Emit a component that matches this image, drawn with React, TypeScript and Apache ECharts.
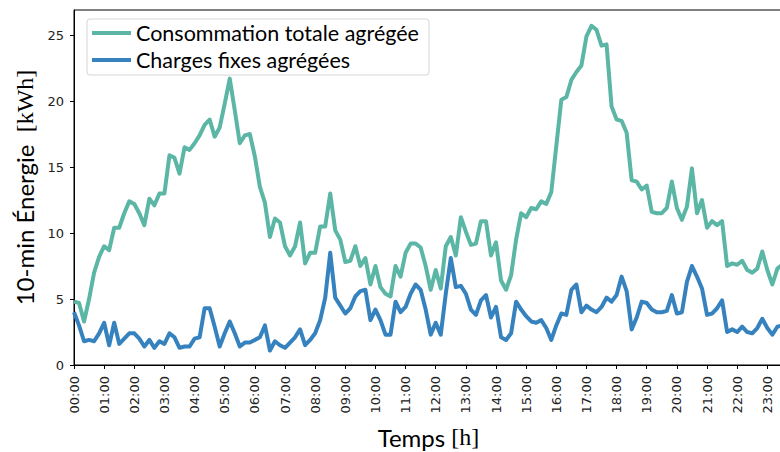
import React, { useEffect, useRef } from "react";
import * as echarts from "echarts";

const hourLabels = [
  "00:00", "01:00", "02:00", "03:00", "04:00", "05:00", "06:00", "07:00",
  "08:00", "09:00", "10:00", "11:00", "12:00", "13:00", "14:00", "15:00",
  "16:00", "17:00", "18:00", "19:00", "20:00", "21:00", "22:00", "23:00",
];

// 10-minute steps (index 0 = 00:00, index 6 = 01:00 ...)
const totalConsumption = [
  4.8, 4.7, 3.3, 5.0, 7.0, 8.2, 9.0, 8.7, 10.4, 10.4, 11.5, 12.4,
  12.2, 11.5, 10.6, 12.6, 12.1, 13.0, 13.0, 15.9, 15.7, 14.5, 16.5, 16.3,
  16.8, 17.4, 18.2, 18.6, 17.3, 18.0, 19.8, 21.7, 19.3, 16.8, 17.4, 17.5,
  15.8, 13.5, 12.3, 9.7, 11.1, 10.8, 9.0, 8.3, 9.0, 10.8, 7.7, 8.5,
  8.5, 10.5, 10.5, 13.0, 10.2, 9.5, 7.8, 7.9, 9.0, 7.5, 8.1, 6.1,
  7.5, 5.9, 5.4, 5.2, 7.5, 6.7, 8.5, 9.2, 9.2, 8.9, 7.5, 5.7,
  7.2, 5.8, 9.0, 9.7, 8.3, 11.2, 10.1, 9.1, 9.2, 10.9, 10.9, 8.3,
  9.3, 6.4, 5.7, 6.8, 9.5, 11.5, 11.2, 11.9, 11.8, 12.4, 12.2, 13.1,
  16.6, 20.1, 20.3, 21.6, 22.2, 22.7, 24.9, 25.7, 25.4, 24.2, 24.3, 19.6,
  18.6, 18.5, 17.6, 14.0, 13.9, 13.3, 13.6, 11.6, 11.5, 11.5, 11.9, 13.9,
  11.9, 11.0, 12.0, 14.9, 11.5, 12.5, 10.4, 10.9, 10.6, 10.9, 7.5, 7.7,
  7.6, 7.9, 7.2, 7.0, 7.3, 8.6, 7.2, 6.1, 7.3, 7.6,
];

const fixedLoads = [
  4.0, 3.0, 1.8, 1.9, 1.8, 2.4, 3.2, 1.5, 3.2, 1.6, 2.0, 2.4,
  2.4, 2.0, 1.4, 1.9, 1.3, 1.8, 1.6, 2.4, 2.1, 1.3, 1.4, 1.4,
  2.0, 2.1, 4.3, 4.3, 2.9, 1.4, 2.4, 3.3, 2.4, 1.4, 1.7, 1.7,
  1.9, 2.1, 3.0, 1.1, 1.8, 1.5, 1.3, 1.7, 2.1, 2.7, 1.5, 1.9,
  2.4, 3.4, 5.1, 8.5, 5.1, 4.5, 3.9, 4.3, 5.2, 5.6, 5.7, 3.4,
  4.2, 3.4, 2.3, 2.3, 4.8, 4.0, 4.4, 5.4, 6.1, 5.7, 4.2, 2.3,
  3.2, 2.3, 5.4, 8.1, 5.9, 6.0, 5.4, 4.2, 3.8, 4.9, 5.3, 3.6,
  4.4, 2.1, 1.9, 2.4, 4.8, 4.2, 3.7, 3.3, 3.2, 3.4, 2.8, 1.9,
  3.0, 3.9, 3.8, 5.7, 6.1, 4.0, 4.5, 4.2, 4.0, 4.4, 5.1, 4.8,
  5.3, 6.7, 5.6, 2.7, 3.6, 4.8, 4.7, 4.2, 4.0, 4.0, 4.1, 5.3,
  3.9, 4.0, 6.3, 7.5, 6.7, 5.8, 3.8, 3.9, 4.3, 4.9, 2.5, 2.7,
  2.5, 2.9, 2.5, 2.4, 2.8, 3.5, 2.8, 2.3, 2.9, 3.0,
];

const yTicks = [0, 5, 10, 15, 20, 25];
const seriesNames = ["Consommation totale agrégée", "Charges fixes agrégées"];

export default function App() {
  const ref = useRef<HTMLDivElement>(null);

  useEffect(() => {
    if (!ref.current) return;
    const chart = echarts.init(ref.current, undefined, { renderer: "svg" });
    const xTicks = hourLabels.map((_, i) => i * 6);
    const toPairs = (arr: number[]) => arr.map((v, i) => [i, v]);
    const nameRich = {
      s: { fontFamily: "Liberation Serif", fontSize: 24, color: "#000" },
    };

    chart.setOption({
      animation: false,
      backgroundColor: "#ffffff",
      grid: {
        left: 74,
        right: -3,
        top: 10,
        bottom: 87,
        show: true,
        borderColor: "#000",
        borderWidth: 1,
        containLabel: false,
        outerBoundsMode: "none",
      },
      legend: {
        orient: "vertical",
        left: 87,
        top: 19,
        data: seriesNames,
        icon: "rect",
        itemWidth: 39,
        itemHeight: 4,
        itemGap: 5,
        padding: [3, 10, 4, 5],
        backgroundColor: "rgba(255,255,255,0.85)",
        borderColor: "#d6d6d6",
        borderWidth: 1,
        borderRadius: 3,
        textStyle: {
          fontFamily: "Lato",
          fontSize: 21.5,
          color: "#000",
        },
      },
      xAxis: {
        type: "value",
        min: 0,
        max: 709 / 5.024,
        interval: 6,
        name: "Temps {s|[h]}",
        nameLocation: "middle",
        nameGap: 60,
        nameTextStyle: { fontFamily: "Lato", fontSize: 24, color: "#000", rich: nameRich },
        axisLine: { show: true, lineStyle: { color: "#000", width: 1 } },
        axisTick: {
          show: true,
          length: 4,
          customValues: xTicks,
          lineStyle: { color: "#000" },
        },
        splitLine: { show: false },
        axisLabel: {
          customValues: xTicks,
          rotate: 90,
          margin: 11,
          fontFamily: "DejaVu Sans",
          fontSize: 13,
          color: "#222",
          formatter: (v: number) => hourLabels[Math.round(v / 6)] ?? "",
        },
      },
      yAxis: {
        type: "value",
        min: 0,
        max: 26.9,
        interval: 5,
        name: "10-min Énergie  {s|[kWh]}",
        nameLocation: "middle",
        nameRotate: 90,
        nameGap: 36,
        nameTextStyle: { fontFamily: "Lato", fontSize: 24, color: "#000", rich: nameRich },
        axisLine: { show: true, lineStyle: { color: "#000", width: 1 } },
        axisTick: {
          show: true,
          length: 4,
          customValues: yTicks,
          lineStyle: { color: "#000" },
        },
        splitLine: { show: false },
        axisLabel: {
          customValues: yTicks,
          margin: 10,
          fontFamily: "DejaVu Sans",
          fontSize: 13,
          color: "#222",
        },
      },
      series: [
        {
          name: seriesNames[0],
          type: "line",
          data: toPairs(totalConsumption),
          showSymbol: false,
          clip: true,
          color: "#5bb6a5",
          lineStyle: { width: 4, color: "#5bb6a5", join: "round" },
        },
        {
          name: seriesNames[1],
          type: "line",
          data: toPairs(fixedLoads),
          showSymbol: false,
          clip: true,
          color: "#3682be",
          lineStyle: { width: 4, color: "#3682be", join: "round" },
        },
      ],
    });

    return () => chart.dispose();
  }, []);

  return (
    <div
      ref={ref}
      style={{ position: "fixed", left: 0, top: 0, width: 780, height: 452, background: "#fff" }}
    />
  );
}
